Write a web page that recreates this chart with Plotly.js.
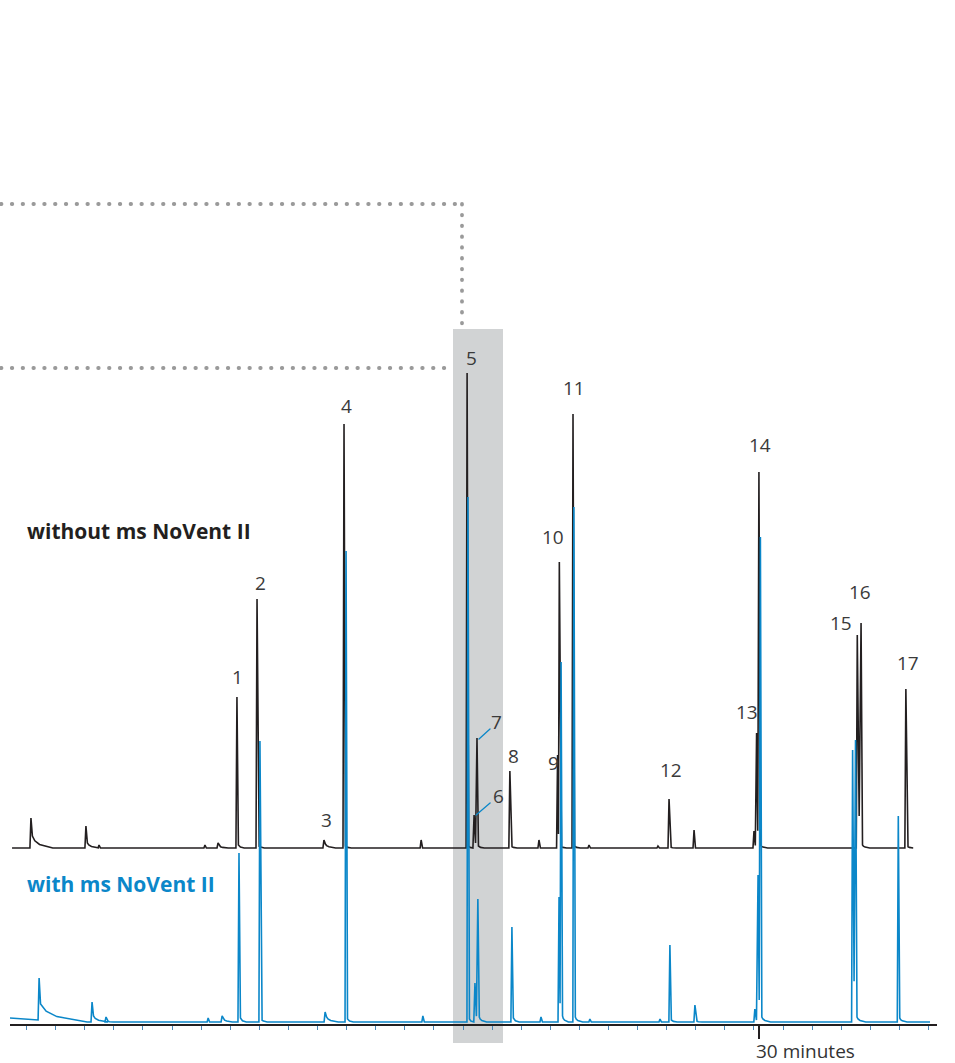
<!DOCTYPE html>
<html>
<head>
<meta charset="utf-8">
<script src="https://cdn.plot.ly/plotly-3.0.1.min.js"></script>
<style>
  html, body { margin: 0; padding: 0; background: #ffffff; }
  #chart { width: 955px; height: 1063px; }
  .shapelayer path { stroke-linecap: round; }
</style>
</head>
<body>
<div id="chart"></div>
<script>
// ---------- DATA (retention time in minutes, peak heights in detector units) ----------
// Trace without ms NoVent II (black)
const blackTimes   = [4.98, 6.87, 7.32, 10.96, 11.41, 12.06, 12.75, 15.05, 15.74, 18.39, 19.97, 20.21, 20.31, 21.44, 22.44, 23.08, 23.14, 23.61, 24.16, 26.53, 26.91, 27.77, 29.83, 29.92, 30.00, 33.38, 33.51, 35.05];
const blackHeights = [30, 22, 3, 3, 5, 151, 249, 8, 424, 8, 475, 33, 110, 77, 8, 93, 286, 434, 3, 2, 49, 18, 17, 115, 376, 213, 225, 159];
const blackTails   = [12, 5, 0, 0, 2, 3, 3, 4, 2, 0, 2, 2, 2, 2, 0, 2, 2, 2, 0, 0, 1, 0, 0, 0, 3, 2, 3, 2];
const blackTailLen = [0.7, 0.4, 0.2, 0.2, 0.3, 0.2, 0.2, 0.35, 0.2, 0.2, 0.15, 0.05, 0.2, 0.2, 0.2, 0.2, 0.2, 0.2, 0.2, 0.2, 0.2, 0.2, 0.2, 0.2, 0.25, 0.2, 0.25, 0.2];
const blackStart = 4.33, blackEnd = 35.29, blackStartLevel = 0;

// Trace with ms NoVent II (blue)
const blueTimes   = [5.26, 7.08, 7.56, 11.07, 11.55, 12.13, 12.85, 15.09, 15.81, 18.45, 20.00, 20.24, 20.34, 21.51, 22.51, 23.13, 23.20, 23.64, 24.19, 26.60, 26.94, 27.80, 29.86, 29.97, 30.05, 33.22, 33.32, 34.79];
const blueHeights = [44, 20, 5, 4, 6, 169, 281, 10, 471, 6, 525, 39, 123, 95, 5, 125, 360, 515, 3, 3, 77, 17, 13, 147, 485, 272, 282, 206];
const blueTails   = [18, 6, 1, 0, 3, 4, 3, 5, 3, 0, 3, 4, 5, 4, 0, 5, 6, 5, 0, 0, 2, 1, 0, 3, 5, 5, 5, 4];
const blueTailLen = [1.6, 0.5, 0.2, 0.2, 0.3, 0.2, 0.2, 0.4, 0.2, 0.2, 0.15, 0.05, 0.25, 0.2, 0.2, 0.2, 0.2, 0.25, 0.2, 0.2, 0.2, 0.2, 0.2, 0.2, 0.3, 0.2, 0.3, 0.25];
const blueStart = 4.26, blueEnd = 35.88, blueStartLevel = 4;

// Peak numbers and the black peak each one labels
const peakLabels     = ['1','2','3','4','5','6','7','8','9','10','11','12','13','14','15','16','17'];
const peakLabelIndex = [5, 6, 7, 8, 10, 11, 12, 13, 15, 16, 17, 20, 23, 24, 25, 26, 27];

// Axis
const axisRange = [4.26, 36.12];
const majorTick = 30;
const majorTickText = '30 minutes';

// ---------- STYLE / LAYOUT ----------
const BLACK = '#231f20';
const BLUE = '#0b87c9';
const W = 955, H = 1063;
const M = {l: 10, r: 18, t: 0, b: 39};
const plotW = W - M.l - M.r, plotH = H - M.t - M.b;
const px2paperX = px => (px - M.l) / plotW;
const px2paperY = py => (H - M.b - py) / plotH;

const WL = 0.035, WR = 0.05, MERGE = 0.13, VALLEY = 0.15;

function buildTrace(times, heights, tails, tailLens, tStart, tEnd, startLevel) {
  const xs = [tStart], ys = [startLevel];
  for (let i = 0; i < times.length; i++) {
    const t = times[i], h = heights[i];
    const prevClose = i > 0 && t - times[i - 1] < MERGE;
    const nextClose = i < times.length - 1 && times[i + 1] - t < MERGE;
    if (prevClose) {
      xs.push((t + times[i - 1]) / 2);
      ys.push(VALLEY * Math.min(h, heights[i - 1]));
    } else {
      xs.push(t - WL); ys.push(i === 0 ? startLevel / 2 : 0);
    }
    xs.push(t); ys.push(h);
    if (!nextClose) {
      if (tails[i] > 0) {
        xs.push(t + WR, t + WR + 0.12 * tailLens[i], t + WR + 0.35 * tailLens[i], t + WR + tailLens[i]);
        ys.push(tails[i], 0.6 * tails[i], 0.3 * tails[i], 0);
      } else {
        xs.push(t + WR); ys.push(0);
      }
    }
  }
  xs.push(tEnd); ys.push(0);
  return {x: xs, y: ys};
}

const blackData = buildTrace(blackTimes, blackHeights, blackTails, blackTailLen, blackStart, blackEnd, blackStartLevel);
const blueData  = buildTrace(blueTimes, blueHeights, blueTails, blueTailLen, blueStart, blueEnd, blueStartLevel);

const traces = [
  {x: blackData.x, y: blackData.y, type: 'scatter', mode: 'lines', name: 'without ms NoVent II',
   line: {color: BLACK, width: 1.6}, yaxis: 'y', hoverinfo: 'skip'},
  {x: blueData.x, y: blueData.y, type: 'scatter', mode: 'lines', name: 'with ms NoVent II',
   line: {color: BLUE, width: 1.6}, yaxis: 'y2', hoverinfo: 'skip'}
];

// label offsets in pixels (dx right, dy up) relative to the labelled peak apex
const labelOffsets = [[1,20],[3,16],[3,20],[2,18],[4,15],[24,19],[20,16],[4,15],[-4,-8],[-6,25],[1,26],[2,29],[-10,21],[1,27],[-16,12],[-1,31],[2,26]];

const annotations = peakLabels.map((txt, k) => {
  const idx = peakLabelIndex[k];
  return {
    x: blackTimes[idx], y: blackHeights[idx], xref: 'x', yref: 'y',
    text: txt, showarrow: false, xanchor: 'center', yanchor: 'middle',
    xshift: labelOffsets[k][0], yshift: labelOffsets[k][1],
    font: {family: 'Open Sans, sans-serif', size: 19, color: '#3a3a3a'}
  };
});
annotations.push(
  {xref: 'paper', yref: 'paper', x: px2paperX(25), y: px2paperY(531), xanchor: 'left', yanchor: 'middle',
   text: 'without ms NoVent II', showarrow: false,
   font: {family: 'Open Sans, sans-serif', size: 21, color: BLACK, weight: 700}},
  {xref: 'paper', yref: 'paper', x: px2paperX(25), y: px2paperY(884), xanchor: 'left', yanchor: 'middle',
   text: 'with ms NoVent II', showarrow: false,
   font: {family: 'Open Sans, sans-serif', size: 21, color: BLUE, weight: 700}},
  {xref: 'x', yref: 'paper', x: majorTick, y: px2paperY(1037), xanchor: 'left', yanchor: 'top', xshift: -4,
   text: majorTickText, showarrow: false, borderpad: 0,
   font: {family: 'Open Sans, sans-serif', size: 19, color: '#333333'}}
);

// leader lines for peaks 6 and 7 (pixel offsets from peak apex)
function leader(idx, x0, x1, y0, y1) {
  return {type: 'line', xref: 'x', yref: 'y', xsizemode: 'pixel', ysizemode: 'pixel',
          xanchor: blackTimes[idx], yanchor: blackHeights[idx],
          x0: x0, x1: x1, y0: y0, y1: y1, line: {color: BLUE, width: 1.3}, layer: 'above'};
}

const DOT = {color: '#9a9a9a', width: 3.8, dash: '0.5px,10.3px'};
const shapes = [
  {type: 'rect', xref: 'paper', yref: 'paper', x0: px2paperX(453), x1: px2paperX(503),
   y0: px2paperY(1043), y1: px2paperY(329), fillcolor: '#d1d3d4', line: {width: 0}, layer: 'below'},
  {type: 'line', xref: 'paper', yref: 'paper', x0: px2paperX(1), x1: px2paperX(462),
   y0: px2paperY(204), y1: px2paperY(204), line: DOT, layer: 'above'},
  {type: 'line', xref: 'paper', yref: 'paper', x0: px2paperX(462), x1: px2paperX(462),
   y0: px2paperY(204), y1: px2paperY(329), line: DOT, layer: 'above'},
  {type: 'line', xref: 'paper', yref: 'paper', x0: px2paperX(1), x1: px2paperX(453),
   y0: px2paperY(368), y1: px2paperY(368), line: DOT, layer: 'above'},
  leader(11, 2, 16, 0, 12),
  leader(12, 2, 13, -1, 9)
];

const layout = {
  width: W, height: H,
  margin: M,
  paper_bgcolor: '#ffffff', plot_bgcolor: 'rgba(0,0,0,0)',
  showlegend: false,
  font: {family: 'Open Sans, sans-serif'},
  xaxis: {
    range: axisRange, showline: true, linecolor: BLACK, linewidth: 1.5,
    showgrid: false, zeroline: false,
    tickmode: 'array', tickvals: [majorTick], ticktext: [''],
    ticks: 'outside', ticklen: 13, tickwidth: 1.5, tickcolor: BLACK,
    minor: {tickmode: 'linear', tick0: 0.83, dtick: 1, ticks: 'outside', ticklen: 4, tickwidth: 1, tickcolor: '#4a86b8', showgrid: false},
    fixedrange: true
  },
  yaxis: {range: [-176, 848], visible: false, fixedrange: true},
  yaxis2: {range: [-2, 1022], visible: false, overlaying: 'y', fixedrange: true},
  annotations: annotations,
  shapes: shapes
};

Plotly.newPlot('chart', traces, layout, {displayModeBar: false, staticPlot: true});
</script>
</body>
</html>
